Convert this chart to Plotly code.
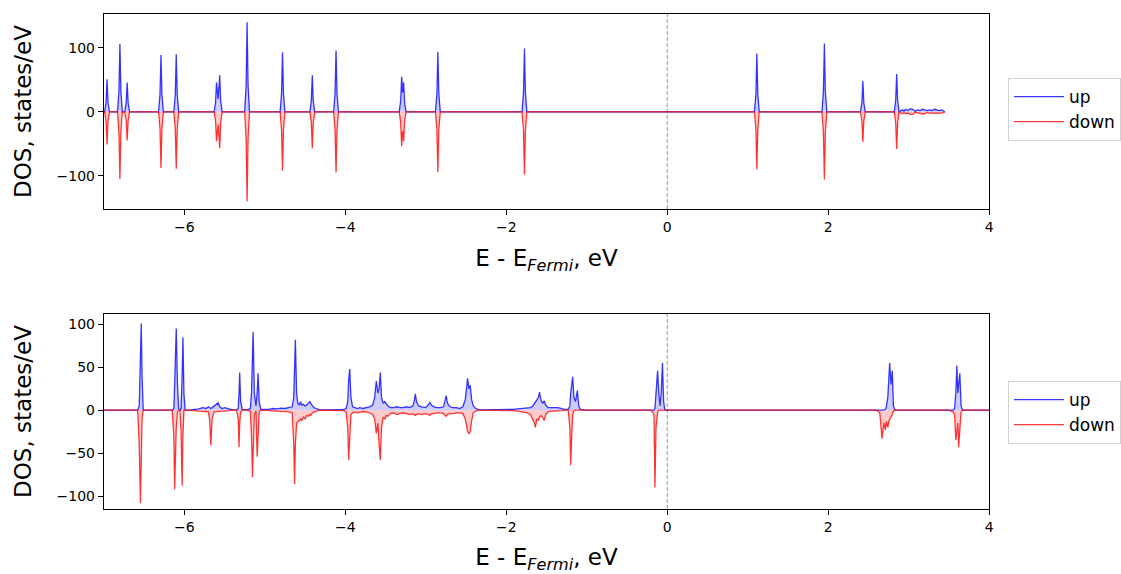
import plotly.graph_objects as go

# ---------------- data ----------------
# Top panel: energy grid (eV, relative to E_Fermi), spin-up and spin-down DOS
E_top = [-7.05, -6.99, -6.972, -6.96, -6.948, -6.93,
         -6.83, -6.812, -6.80, -6.788, -6.77,
         -6.74, -6.722, -6.71, -6.698, -6.68,
         -6.32, -6.302, -6.29, -6.278, -6.26,
         -6.13, -6.112, -6.10, -6.088, -6.07,
         -5.63, -5.612, -5.60, -5.58, -5.56, -5.548, -5.53,
         -5.25, -5.232, -5.22, -5.208, -5.19,
         -4.81, -4.792, -4.78, -4.768, -4.75,
         -4.44, -4.422, -4.41, -4.398, -4.38,
         -4.145, -4.127, -4.115, -4.103, -4.085,
         -3.33, -3.312, -3.30, -3.288, -3.275, -3.263, -3.245,
         -2.88, -2.862, -2.85, -2.838, -2.82,
         -1.804, -1.786, -1.774, -1.762, -1.744,
         1.083, 1.101, 1.113, 1.125, 1.143,
         1.922, 1.940, 1.952, 1.964, 1.982,
         2.40, 2.418, 2.43, 2.442, 2.46,
         2.82, 2.838, 2.85, 2.862, 2.88,
         2.92, 2.94, 2.96, 2.99, 3.02, 3.05, 3.08, 3.11, 3.14, 3.17,
         3.20, 3.23, 3.26, 3.29, 3.32, 3.35, 3.38, 3.41, 3.45]
up_top = [0, 0, 15, 51, 15, 0,
          0, 32, 106, 32, 0,
          0, 14, 46, 14, 0,
          0, 27, 89, 27, 0,
          0, 27, 90, 27, 0,
          0, 14, 46, 20, 57, 17, 0,
          0, 42, 140, 42, 0,
          0, 28, 93, 28, 0,
          0, 17, 57, 17, 0,
          0, 29, 96, 29, 0,
          0, 17, 55, 30, 46, 14, 0,
          0, 28, 94, 28, 0,
          0, 30, 99, 30, 0,
          0, 27, 91, 27, 0,
          0, 32, 107, 32, 0,
          0, 14, 48, 14, 0,
          0, 18, 59, 18, 0,
          3, 1, 4, 2, 5, 4, 1, 3, 2, 4,
          3, 2, 3, 2, 4, 3, 2, 3, 0]
down_top = [0, 0, -15, -51, -15, 0,
            0, -32, -105, -32, 0,
            0, -14, -45, -14, 0,
            0, -26, -88, -26, 0,
            0, -27, -89, -27, 0,
            0, -14, -46, -20, -57, -17, 0,
            0, -42, -140, -42, 0,
            0, -28, -92, -28, 0,
            0, -17, -57, -17, 0,
            0, -29, -95, -29, 0,
            0, -16, -54, -30, -46, -14, 0,
            0, -28, -94, -28, 0,
            0, -30, -98, -30, 0,
            0, -27, -90, -27, 0,
            0, -32, -106, -32, 0,
            0, -14, -47, -14, 0,
            0, -17, -58, -17, 0,
            -3, -1, -3, -2, -4, -4, -1, -2, -2, -3,
            -3, -1, -2, -2, -3, -3, -2, -2, 0]

# Bottom panel
E_bot = [-7.05, -6.58, -6.56, -6.545, -6.535, -6.525, -6.51,
         -6.15, -6.13, -6.12, -6.10, -6.085, -6.07, -6.055, -6.04, -6.027, -6.017, -6.005, -5.99,
         -5.92, -5.87, -5.82, -5.77, -5.73, -5.70, -5.685, -5.67, -5.655, -5.63,
         -5.60, -5.58, -5.56, -5.53, -5.50, -5.47, -5.44, -5.40, -5.35,
         -5.33, -5.32, -5.312, -5.30, -5.28, -5.22, -5.18, -5.165, -5.153, -5.145,
         -5.13, -5.11, -5.095, -5.083, -5.07, -5.05, -4.95, -4.90, -4.85, -4.80,
         -4.75, -4.70, -4.66, -4.64, -4.63, -4.62, -4.605, -4.59, -4.57, -4.557,
         -4.54, -4.52, -4.50, -4.48, -4.46, -4.44, -4.43, -4.41, -4.39, -4.36,
         -4.32, -4.20, -4.10, -4.02,
         -3.99, -3.97, -3.958, -3.945, -3.93, -3.91, -3.88, -3.85, -3.82, -3.78,
         -3.74, -3.70, -3.66, -3.635, -3.615, -3.595, -3.58, -3.565, -3.55, -3.53,
         -3.51, -3.49, -3.47, -3.44, -3.40, -3.36, -3.32, -3.28, -3.24, -3.20,
         -3.16, -3.14, -3.13, -3.115, -3.09, -3.05, -3.00, -2.97, -2.95, -2.93,
         -2.90, -2.86, -2.82, -2.78, -2.76, -2.746, -2.73, -2.70, -2.66, -2.62,
         -2.58, -2.54, -2.51, -2.49, -2.48, -2.465, -2.448, -2.43, -2.41, -2.38,
         -2.35, -2.30,
         -2.20, -2.10, -2.00, -1.92, -1.86, -1.80, -1.74, -1.70, -1.67, -1.65,
         -1.64, -1.62, -1.60, -1.588, -1.57, -1.55, -1.53, -1.51, -1.48, -1.44,
         -1.40, -1.36, -1.32, -1.28, -1.23, -1.21, -1.20, -1.185, -1.175, -1.16,
         -1.14, -1.117, -1.10, -1.08, -1.05, -1.00,
         -0.20, -0.165, -0.153, -0.14, -0.12, -0.105, -0.09, -0.075, -0.06, -0.045, -0.03,
         2.60, 2.64, 2.668, 2.69, 2.71, 2.72, 2.74, 2.755, 2.763, 2.78, 2.795, 2.81, 2.83,
         3.50, 3.55, 3.57, 3.585, 3.598, 3.61, 3.62, 3.635, 3.65, 3.67, 4.05]
up_bot = [0, 0, 5, 60, 101, 40, 0,
          0, 2, 30, 95, 30, 2, 0, 2, 40, 85, 20, 0,
          0.5, 1, 1.5, 3, 2, 4, 3, 2, 3, 5,
          7, 8.5, 4, 2, 3, 2, 1, 0.5, 0.5,
          2, 20, 44, 10, 1, 0.5, 2, 20, 70, 91,
          20, 5, 20, 43, 10, 1, 1, 2, 1.5, 2.5,
          2, 3, 4, 15, 60, 82, 20, 8, 6, 10,
          6, 7, 5, 6, 8, 10, 8, 5, 3, 2,
          0.5, 0.5, 0.5, 1,
          2, 10, 35, 48, 15, 4, 3, 2, 3, 2,
          3, 4, 6, 15, 34, 20, 25, 44, 15, 8,
          10, 7, 5, 3, 3, 4, 3, 3, 4, 3,
          5, 12, 19, 10, 5, 4, 3, 6, 9, 6,
          4, 3, 3, 4, 10, 17, 8, 4, 3, 3,
          2, 4, 12, 30, 37, 25, 29, 12, 5, 2,
          1, 0.5,
          0.5, 1, 0.5, 1, 1.5, 2, 3, 3, 5, 8,
          10, 12, 15, 21, 12, 8, 11, 6, 3, 3,
          3, 3, 2, 1, 1, 5, 20, 30, 39, 15,
          10, 23, 5, 1, 0.5, 0,
          0, 0, 2, 20, 46, 20, 5, 20, 55, 10, 0,
          0, 0, 0, 0, 1, 3, 15, 35, 55, 30, 46, 5, 0,
          0, 0, 2, 20, 52, 20, 30, 43, 5, 0, 0]
down_bot = [0, 0, -40, -108, -60, -10, 0,
            0, -30, -92, -20, -2, 0, 0, -25, -88, -30, 0, 0,
            0, -0.5, -1, -1, -1.5, -2, -12, -41, -10, -2,
            -1.5, -1, -1.5, -1, -1, -1, -0.5, 0, 0,
            -10, -43, -15, -2, 0, 0, -1, -30, -78, -40,
            -5, -1, -54, -30, -2, 0, -0.5, -1, -1, -1.5,
            -1, -2, -3, -40, -86, -40, -15, -14, -12, -10,
            -12, -8, -10, -6, -7, -5, -6, -3, -2, -1,
            0, 0, 0, -0.5,
            -2, -20, -58, -25, -5, -3, -2, -3, -2, -1.5,
            -2, -3, -5, -10, -27, -15, -40, -58, -20, -8,
            -10, -6, -7, -4, -3, -5, -4, -3, -4, -5,
            -4, -5, -6, -5, -4, -5, -4, -5, -6, -4,
            -4, -3, -3, -4, -6, -7, -5, -4, -4, -3,
            -3, -4, -10, -20, -25, -27, -25, -12, -3, -1,
            0, 0,
            0, 0, 0, -0.5, -1, -2, -3, -5, -10, -15,
            -20, -10, -12, -8, -6, -8, -12, -5, -2, -1,
            -1, -1, -0.5, 0, 0, -20, -64, -25, -5, -1,
            0, 0, 0, 0, 0, 0,
            0, -5, -90, -20, -2, 0, 0, 0, 0, 0, 0,
            0, -3, -33, -15, -23, -13, -20, -12, -10, -8, -5, -1, 0,
            0, -2, -5, -35, -20, -15, -43, -20, -2, 0, 0]

x_ticks = [-6, -4, -2, 0, 2, 4]
y_ticks_top = [-100, 0, 100]
y_ticks_bot = [-100, -50, 0, 50, 100]

assert len(E_top) == len(up_top) == len(down_top)
assert len(E_bot) == len(up_bot) == len(down_bot)

# ---------------- figure ----------------
W, H = 1121, 574
FONT = "DejaVu Sans"
UP_LINE = "rgba(0,0,255,0.78)"
DN_LINE = "rgba(255,0,0,0.78)"
UP_FILL = "rgba(0,0,255,0.2)"
DN_FILL = "rgba(255,0,0,0.2)"

fig = go.Figure()

panels = [
    (E_top, up_top, down_top, "x", "y", "legend"),
    (E_bot, up_bot, down_bot, "x2", "y2", "legend2"),
]
for E, up, dn, xa, ya, lg in panels:
    fig.add_trace(go.Scatter(x=E, y=up, mode="none", fill="tozeroy",
                             fillcolor=UP_FILL, showlegend=False,
                             xaxis=xa, yaxis=ya, hoverinfo="skip"))
    fig.add_trace(go.Scatter(x=E, y=dn, mode="none", fill="tozeroy",
                             fillcolor=DN_FILL, showlegend=False,
                             xaxis=xa, yaxis=ya, hoverinfo="skip"))
    fig.add_trace(go.Scatter(x=E, y=up, mode="lines", name="up",
                             line=dict(color=UP_LINE, width=1.3),
                             xaxis=xa, yaxis=ya, legend=lg))
    fig.add_trace(go.Scatter(x=E, y=dn, mode="lines", name="down",
                             line=dict(color=DN_LINE, width=1.3),
                             xaxis=xa, yaxis=ya, legend=lg))

xl, xr = 104 / W, 991 / W
top_dom = [(H - 209) / H, (H - 14) / H]
bot_dom = [(H - 509) / H, (H - 314) / H]

axis_common = dict(showline=True, mirror=True, linecolor="black", linewidth=1,
                   ticks="outside", ticklen=5, tickwidth=1, tickcolor="black",
                   showgrid=False, zeroline=False,
                   tickfont=dict(family=FONT, size=14, color="black"))

xtitle = dict(text="E - E<sub><i>Fermi</i></sub>, eV",
              font=dict(family=FONT, size=23, color="black"), standoff=16)
ytitle = dict(text="DOS, states/eV",
              font=dict(family=FONT, size=23, color="black"), standoff=18)

legend_common = dict(xanchor="left", yanchor="top",
                     bgcolor="white", bordercolor="#d0d0d0", borderwidth=1,
                     font=dict(family=FONT, size=17, color="black"),
                     tracegroupgap=0, itemwidth=50)

fig.update_layout(
    width=W, height=H,
    margin=dict(l=0, r=0, t=0, b=0),
    paper_bgcolor="white", plot_bgcolor="white",
    font=dict(family=FONT, color="black"),
    xaxis=dict(domain=[xl, xr], anchor="y", range=[-7, 4], tickvals=x_ticks,
               title=xtitle, automargin=False, **axis_common),
    yaxis=dict(domain=top_dom, anchor="x", range=[-152, 153], tickvals=y_ticks_top,
               title=ytitle, automargin=False, **axis_common),
    xaxis2=dict(domain=[xl, xr], anchor="y2", range=[-7, 4], tickvals=x_ticks,
                title=xtitle, automargin=False, **axis_common),
    yaxis2=dict(domain=bot_dom, anchor="x2", range=[-115, 112], tickvals=y_ticks_bot,
                title=ytitle, automargin=False, **axis_common),
    legend=dict(x=1010 / W, y=(H - 78) / H, **legend_common),
    legend2=dict(x=1010 / W, y=(H - 381) / H, **legend_common),
)

# dashed vertical line at the Fermi level in both panels
for xa, ya in [("x", "y"), ("x2", "y2")]:
    fig.add_shape(type="line", xref=xa, yref=f"{ya} domain", x0=0, x1=0, y0=0, y1=1,
                  line=dict(color="#999999", width=1, dash="4px,2px"), layer="below")

fig.write_html("out.html")
